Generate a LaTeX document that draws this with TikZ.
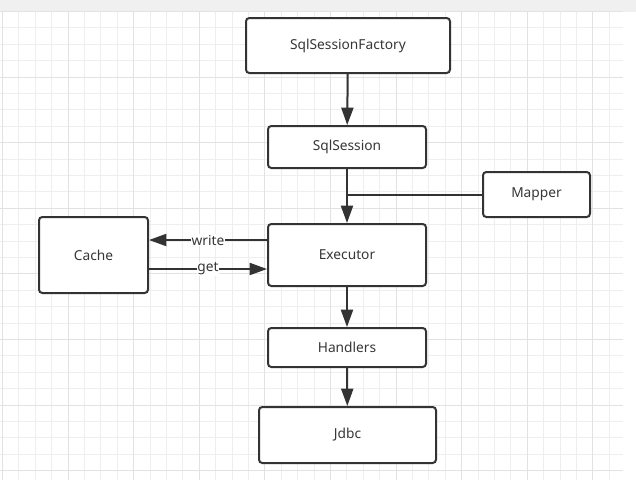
\documentclass[tikz,border=0pt]{standalone}
\usepackage{fontspec}
\setmainfont{Noto Sans}
\usetikzlibrary{arrows.meta}
\definecolor{linegray}{RGB}{51,51,51}
\definecolor{textgray}{RGB}{55,55,55}
\definecolor{minorgrid}{RGB}{238,238,238}
\definecolor{majorgrid}{RGB}{226,226,226}
\definecolor{topbar}{RGB}{240,240,240}

\begin{document}
\begin{tikzpicture}[x=0.75pt,y=-0.75pt]
	\tikzstyle{box}=[draw=linegray,line width=1.5pt,rounded corners=2.5pt,fill=white,text=textgray,font=\fontsize{10.3}{12}\selectfont,inner sep=0pt]
	\tikzstyle{flow}=[draw=linegray,line width=1.5pt,-{Triangle[length=13pt,width=9pt]}]
	\tikzstyle{plain}=[draw=linegray,line width=1.5pt]
	\tikzstyle{lbl}=[fill=white,text=textgray,font=\fontsize{10.3}{12}\selectfont,inner sep=0.5pt]

	% background and grid
	\useasboundingbox (0,0) rectangle (636,480);
	\fill[white] (0,0) rectangle (636,480);
	\fill[topbar] (0,0) rectangle (636,11.5);
	\foreach \gx in {0,...,37} {
		\draw[minorgrid,line width=0.75pt] ({2.4+16.4*\gx},11.5) -- ({2.4+16.4*\gx},480);
	}
	\foreach \gy in {0,...,28} {
		\draw[minorgrid,line width=0.75pt] (0,{11.5+16.4*\gy}) -- (623,{11.5+16.4*\gy});
	}
	\foreach \gx in {0,4,...,36} {
		\draw[majorgrid,line width=0.75pt] ({2.4+16.4*\gx},11.5) -- ({2.4+16.4*\gx},480);
	}
	\foreach \gy in {0,4,...,28} {
		\draw[majorgrid,line width=0.75pt] (0,{11.5+16.4*\gy}) -- (623,{11.5+16.4*\gy});
	}

	% boxes
	\node[box,minimum width=153pt,minimum height=41.25pt] (factory) at (348,45.5) {SqlSessionFactory};
	\node[box,minimum width=118.5pt,minimum height=31.5pt] (session) at (347,147) {SqlSession};
	\node[box,minimum width=80.25pt,minimum height=33.75pt] (mapper) at (536.5,194.5) {Mapper};
	\node[box,minimum width=118.5pt,minimum height=46.5pt] (executor) at (347,255) {Executor};
	\node[box,minimum width=81.75pt,minimum height=57pt] (cache) at (93.5,255) {Cache};
	\node[box,minimum width=118.5pt,minimum height=29.25pt] (handlers) at (347,347.5) {Handlers};
	\node[box,minimum width=132.75pt,minimum height=42pt] (jdbc) at (347.5,435) {Jdbc};

	% connectors
	\draw[flow] (factory) -- (session);
	\draw[flow] (session) -- (executor);
	\draw[plain] (mapper.west) -- (mapper.west -| session.south);
	\draw[flow] ([yshift=11.25pt]executor.west) -- node[lbl] {write} ([yshift=11.25pt]executor.west -| cache.east);
	\draw[flow] ([yshift=-10.5pt]executor.west -| cache.east) -- node[lbl] {get} ([yshift=-10.5pt]executor.west);
	\draw[flow] (executor) -- (handlers);
	\draw[flow] (handlers) -- (jdbc);
\end{tikzpicture}
\end{document}
